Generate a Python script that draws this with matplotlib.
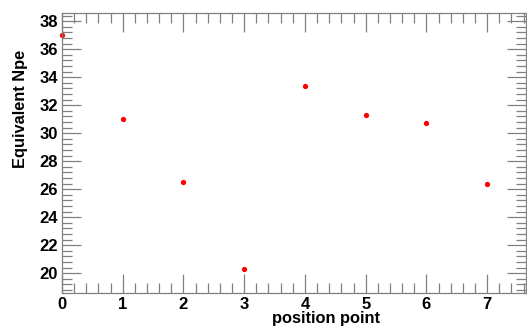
import matplotlib
matplotlib.use("Agg")
import matplotlib.pyplot as plt
from matplotlib.ticker import MultipleLocator

position = [0, 1, 2, 3, 4, 5, 6, 7]
npe = [37.0, 31.0, 26.5, 20.3, 33.4, 31.3, 30.7, 26.4]

plt.rcParams['font.family'] = ['Liberation Sans', 'DejaVu Sans']
plt.rcParams['font.weight'] = 'bold'

W, H = 527, 327
fig = plt.figure(figsize=(W / 100, H / 100), dpi=100)
# axes box in pixels: left 62, right 526, top 12.7, bottom 292.7
ax = fig.add_axes([62 / W, 1 - 292.7 / H, (526 - 62) / W, (292.7 - 12.7) / H])

ax.plot(position, npe, 'o', color='red', markersize=3.8, markeredgewidth=0, clip_on=False)

ax.set_xlim(0, 7.64)
ax.set_ylim(18.61, 38.61)
ax.xaxis.set_major_locator(MultipleLocator(1))
ax.xaxis.set_minor_locator(MultipleLocator(0.2))
ax.yaxis.set_major_locator(MultipleLocator(2))
ax.yaxis.set_minor_locator(MultipleLocator(0.4))

ax.tick_params(which='both', direction='in', top=True, right=True,
               color='#808080', width=0.9)
ax.tick_params(which='major', length=14, labelsize=12, pad=3)
ax.tick_params(which='minor', length=7)
for lab in ax.get_xticklabels() + ax.get_yticklabels():
    lab.set_fontweight('bold')
for s in ax.spines.values():
    s.set_color('#808080')
    s.set_linewidth(0.9)

fig.text(326 / W, 1 - 318 / H, 'position point', ha='center', va='center',
         fontsize=11.8, fontweight='bold')
fig.text(21 / W, 1 - 109 / H, 'Equivalent Npe', ha='center', va='center',
         rotation=90, fontsize=11.8, fontweight='bold')

fig.savefig('out.png', dpi=100)
